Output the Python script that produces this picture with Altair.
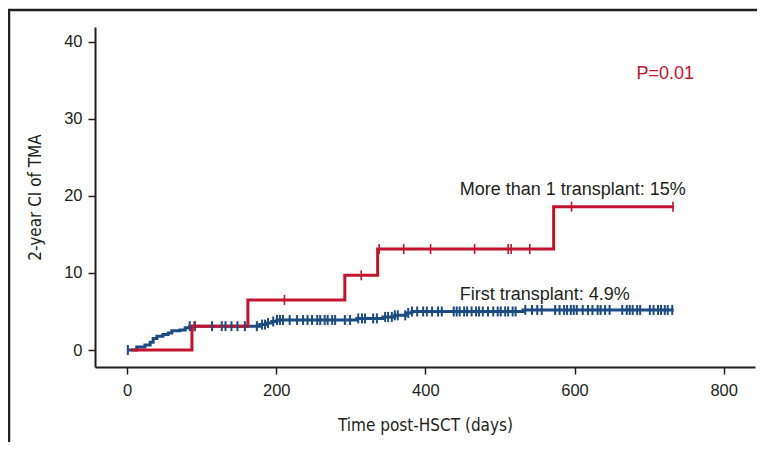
import altair as alt
import pandas as pd

# ---- data ----
blue_days = [0, 13, 24, 31, 35, 40, 48, 55, 60, 71, 78, 84, 178, 186, 194, 201,
             308, 343, 359, 374, 382, 531, 733]
blue_vals = [0, 0.4, 0.65, 1.0, 1.5, 1.8, 2.0, 2.2, 2.5, 2.6, 2.9, 3.1, 3.3, 3.5,
             3.7, 3.9, 4.1, 4.3, 4.5, 4.8, 5.0, 5.2, 5.2]
red_days = [6, 87, 162, 292, 336, 572, 733]
red_vals = [0, 3.1, 6.5, 9.7, 13.1, 18.6, 18.6]

blue_censor = [1, 84, 91, 114, 127, 132, 140, 148, 158, 174, 181, 185, 189, 196,
               201, 205, 209, 218, 228, 236, 242, 248, 255, 259, 265, 269, 275, 279,
               292, 299, 310, 315, 319, 330, 335, 346, 350, 355, 359, 363, 373, 377,
               382, 389, 397, 402, 409, 417, 422, 438, 442, 446, 452, 456, 462, 468,
               472, 477, 484, 491, 497, 501, 507, 511, 517, 521, 534, 543, 550, 556,
               574, 580, 586, 590, 595, 599, 603, 611, 618, 624, 631, 635, 641, 647,
               664, 670, 674, 678, 684, 688, 701, 706, 712, 716, 721, 725, 731]
red_censor = [90, 211, 314, 338, 371, 407, 466, 511, 515, 540, 596, 732]

x_ticks = [0, 200, 400, 600, 800]
y_ticks = [0, 10, 20, 30, 40]

labels = ["P=0.01", "More than 1 transplant: 15%", "First transplant: 4.9%"]
label_day = [683, 446, 446]
label_val = [35.8, 20.8, 7.1]
label_col = ["red", "dark", "dark"]

RED = "#C4122F"
BLUE = "#1B4B82"
DARK = "#231F20"
FONT = "Liberation Sans"
NARROW = "Liberation Sans Narrow, DejaVu Sans Condensed, Liberation Sans"

blue_df = pd.DataFrame({"day": blue_days, "val": blue_vals})
red_df = pd.DataFrame({"day": red_days, "val": red_vals})


def censor_points(days, steps):
    c = pd.DataFrame({"day": days}).sort_values("day")
    s = steps.sort_values("day")
    return pd.merge_asof(c, s, on="day", direction="backward").fillna(0)


blue_c = censor_points(blue_censor, blue_df)
red_c = censor_points(red_censor, red_df)
ann = pd.DataFrame({"text": labels, "day": label_day, "val": label_val, "col": label_col})

xs = alt.Scale(domain=[-43, 842], nice=False, zero=False)
ys = alt.Scale(domain=[-2.2, 41.9], nice=False, zero=False)

xenc = alt.X("day:Q", scale=xs, axis=alt.Axis(
    values=x_ticks, title="Time post-HSCT (days)", format="d",
    titleX=330, titleY=58, titleBaseline="middle", titleFont=NARROW,
    titleFontSize=17, titleFontWeight="normal", titleColor=DARK,
    labelFont=FONT, labelFontSize=16.5, labelColor=DARK, labelPadding=8,
    tickSize=7, tickWidth=1.5, tickColor=DARK, domainWidth=2, domainColor=DARK,
    grid=False))
yenc = alt.Y("val:Q", scale=ys, axis=alt.Axis(
    values=y_ticks, title="2-year CI of TMA", format="d",
    titleX=-60, titleY=170, titleBaseline="middle", titleFont=NARROW,
    titleFontSize=17, titleFontWeight="normal", titleColor=DARK,
    labelFont=FONT, labelFontSize=16.5, labelColor=DARK, labelPadding=6,
    tickSize=7, tickWidth=1.5, tickColor=DARK, domainWidth=2, domainColor=DARK,
    grid=False))

blue_line = alt.Chart(blue_df).mark_line(
    interpolate="step-after", color=BLUE, strokeWidth=3).encode(x=xenc, y=yenc)
red_line = alt.Chart(red_df).mark_line(
    interpolate="step-after", color=RED, strokeWidth=3).encode(x="day:Q", y="val:Q")
blue_ticks = alt.Chart(blue_c).mark_tick(
    orient="vertical", color=BLUE, size=10, thickness=2, opacity=1).encode(
    x="day:Q", y="val:Q")
red_ticks = alt.Chart(red_c).mark_tick(
    orient="vertical", color=RED, size=10, thickness=1.6, opacity=1).encode(
    x="day:Q", y="val:Q")
texts = alt.Chart(ann).mark_text(
    align="left", baseline="middle", font=FONT, fontSize=18).encode(
    x="day:Q", y="val:Q", text="text:N",
    color=alt.Color("col:N", scale=alt.Scale(domain=["red", "dark"], range=[RED, DARK]),
                    legend=None))

frame_df = pd.DataFrame({"k": [0]})
frame_left = alt.Chart(frame_df).mark_rule(color=DARK, strokeWidth=2.5).encode(
    x=alt.value(-86), y=alt.value(-17), y2=alt.value(440))
frame_top = alt.Chart(frame_df).mark_rule(color=DARK, strokeWidth=2.5).encode(
    x=alt.value(-87), x2=alt.value(670), y=alt.value(-17))

chart = alt.layer(
    blue_line, red_line, blue_ticks, red_ticks, texts, frame_left, frame_top
).properties(
    width=660, height=340,
    autosize=alt.AutoSizeParams(type="none"),
    padding={"left": 87, "top": 19, "right": 2, "bottom": 75},
).configure_view(stroke=None)

chart.save("out.html", embed_options={"renderer": "svg", "actions": False})
